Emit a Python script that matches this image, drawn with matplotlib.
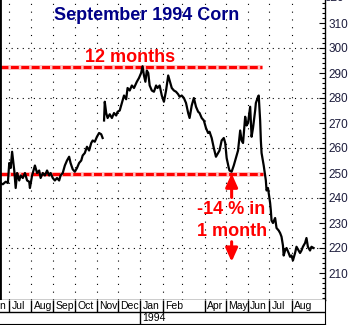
import numpy as np
import matplotlib
matplotlib.use("Agg")
import matplotlib.pyplot as plt
import matplotlib.dates as mdates
from matplotlib.ticker import MultipleLocator
from datetime import date, timedelta

# Contrat maïs septembre 1994 - prix (cents/bu)
start = date(1993, 7, 1)

# jours depuis le 1er juillet 1993
day_offsets = [
    -13, -9, -5, -2, 0, 2, 4, 7, 9, 11,
    14, 16, 19, 22, 25, 28, 29, 32, 35, 36,
    39, 42, 44, 47, 50, 53, 56, 58, 61, 64,
    67, 70, 72, 75, 78, 81, 84, 86, 89, 92,
    95, 98, 101, 103, 106, 109, 112, 115, 117, 120,
    123, 126, 129, 131, 132, 133, 134, 136, 138, 141,
    144, 147, 150, 152, 155, 158, 161, 164, 166, 169,
    172, 175, 179, 182, 185, 187, 189, 191, 193, 195,
    197, 200, 203, 206, 208, 211, 214, 217, 220, 223,
    225, 228, 231, 234, 237, 239, 242, 245, 248, 251,
    253, 256, 259, 262, 265, 267, 270, 273, 276, 279,
    281, 284, 287, 290, 293, 295, 298, 301, 303, 305,
    308, 309, 312, 315, 318, 321, 324, 326, 328, 331,
    333, 335, 338, 339, 340, 342, 345, 346, 349, 350,
    352, 353, 354, 357, 359, 360, 361, 363, 366, 367,
    368, 370, 373, 375, 378, 380, 382, 384, 385, 387,
    389, 392, 394, 396, 398, 401, 403, 406, 408, 410,
    412, 415, 416, 417, 419, 422, 424, 427,
]
prices = [
    246, 245.5, 246.5, 246, 254, 252, 258.5, 251, 244, 250,
    247, 249, 248, 250, 247, 246.5, 244, 249, 252, 253,
    250, 251, 248, 250, 249, 251, 249, 250, 248, 247,
    248, 247, 249, 250, 253, 255, 256.5, 254, 251.5, 250.5,
    252, 254, 255, 257, 258, 260.5, 259, 262, 263, 262.5,
    264.5, 266, 265.5, 264, np.nan, 271, 278.5, 274, 272, 273.5,
    272, 274, 273, 274.5, 275, 278, 281, 279.5, 284, 283,
    285, 284, 286.5, 288, 290, 292.7, 289, 286.5, 291, 290,
    285, 283, 282.5, 285, 284, 285, 281, 278.5, 283, 289,
    287, 284, 283, 282.5, 281.5, 280.5, 281, 280, 278, 274,
    272, 277, 280, 276.5, 274.5, 274, 272, 271, 268, 266,
    266.5, 264, 260, 256.5, 258, 259, 263, 264, 262, 256,
    252, 251, 250.5, 253, 256, 259, 267, 263, 262, 272.5,
    269, 270, 276.5, 270, 264.5, 268, 275, 278, 280.5, 281,
    271, 263, 258, 253, 249, 247, 243, 244, 238, 235,
    231, 230, 232, 228, 227, 226, 224.5, 221, 217, 219,
    220, 218, 216.5, 217, 215, 218, 220.5, 219, 218, 219,
    220.5, 222, 223, 224, 220.5, 219, 220.5, 220,
]

# étiquettes des mois sous le graphique (pas de "Mar" sur l'original)
month_labels = ["Jun", "Jul", "Aug", "Sep", "Oct", "Nov", "Dec",
                "Jan", "Feb", "Apr", "May", "Jun", "Jul", "Aug"]
month_starts = ["1993-06-01", "1993-07-01", "1993-08-01", "1993-09-01",
                "1993-10-01", "1993-11-01", "1993-12-01", "1994-01-01",
                "1994-02-01", "1994-04-01", "1994-05-01", "1994-06-01",
                "1994-07-01", "1994-08-01"]
grid_months = ["1993-07-01", "1993-08-01", "1993-09-01", "1993-10-01",
               "1993-11-01", "1993-12-01", "1994-01-01", "1994-02-01",
               "1994-03-01", "1994-04-01", "1994-05-01", "1994-06-01",
               "1994-07-01", "1994-08-01"]
price_grid = [220, 240, 260, 280, 300]

high_level = 292.5    # sommet (ligne "12 months")
low_level = 249.5     # niveau de départ / creux de mai


def dnum(d):
    return mdates.date2num(start + timedelta(days=d))


def snum(s):
    return mdates.datestr2num(s)


x = [dnum(d) for d in day_offsets]
x0, x1 = dnum(-13), dnum(443)

RED = "#ff0000"
NAVY = "#000088"
FONT = "Liberation Sans"

fig = plt.figure(figsize=(3.6, 3.25), dpi=100)
ax = fig.add_axes([0, 25 / 325, 325 / 360, 300 / 325])
ax.set_xlim(x0, x1)
ax.set_ylim(199.2, 319.2)

# cadre
ax.spines["top"].set_visible(False)
ax.spines["left"].set_linewidth(2)
ax.spines["right"].set_linewidth(1)
ax.spines["bottom"].set_linewidth(1)

# axe des prix à droite
ax.yaxis.tick_right()
ax.set_yticks(range(210, 320, 10))
ax.yaxis.set_minor_locator(MultipleLocator(2))
ax.tick_params(axis="y", which="major", direction="in", length=4, width=0.8,
               pad=2.5, labelsize=8.5, labelcolor="#1c1c3c")
ax.tick_params(axis="y", which="minor", direction="in", length=2, width=0.8)
for lab in ax.get_yticklabels():
    lab.set_family(FONT)
# 320 coupé en haut comme sur l'original
ax.text(1.0, 320, "320", transform=ax.get_yaxis_transform(), ha="left", va="center",
        fontsize=8.5, color="#1c1c3c", family=FONT, clip_on=False)
ax.set_xticks([])

# grille pointillée
for h in price_grid:
    ax.axhline(h, color="k", lw=0.8, ls=(0, (1, 4)), zorder=1)
for m in grid_months:
    ax.axvline(snum(m), color="k", lw=0.8, ls=(0, (1, 6)), zorder=1)

# lignes rouges horizontales
for lvl, end in [(high_level, 354), (low_level, 356)]:
    ax.plot([x0, dnum(end)], [lvl, lvl], color="#ffc4c4", lw=3.6,
            solid_capstyle="butt", zorder=2)
    ax.plot([x0, dnum(end)], [lvl, lvl], color=RED, lw=2.2,
            ls=(0, (2.6, 0.8)), zorder=2)

# prix
ax.plot(x, prices, color="k", lw=1.6, zorder=3)

# textes
ax.text(dnum(193), 313.2, "September 1994 Corn", ha="center", va="center",
        fontsize=13, fontweight="bold", color=NAVY, family=FONT)
ax.text(dnum(169), 296.2, "12 months", ha="center", va="center",
        fontsize=13, fontweight="bold", color=RED, family=FONT)
ax.text(dnum(311), 235.2, "-14 % in", ha="center", va="center",
        fontsize=13, fontweight="bold", color=RED, family=FONT)
ax.text(dnum(313), 226.8, "1 month", ha="center", va="center",
        fontsize=13, fontweight="bold", color=RED, family=FONT)

arrow = dict(arrowstyle="-|>,head_length=0.8,head_width=0.36", color=RED,
             lw=2.2, shrinkA=0, shrinkB=0, mutation_scale=10)
ax.annotate("", xy=(dnum(312), 249.8), xytext=(dnum(312), 240.2), arrowprops=arrow)
ax.annotate("", xy=(dnum(312), 214.5), xytext=(dnum(312), 222.5), arrowprops=arrow)

# bande des mois / année
axb = fig.add_axes([0, 1 / 325, 325 / 360, 24 / 325])
axb.set_xlim(x0, x1)
axb.set_ylim(0, 2)
axb.set_xticks([])
axb.set_yticks([])
axb.spines["top"].set_visible(False)
axb.spines["left"].set_visible(False)
axb.axhline(1, color="k", lw=1)
for lab, m in zip(month_labels, month_starts):
    mx = snum(m)
    axb.vlines(mx, 1, 2, color="k", lw=1)
    axb.annotate(lab, xy=(mx, 1.5), xytext=(1.6, 0), textcoords="offset points",
                 ha="left", va="center", fontsize=7.5, family=FONT,
                 annotation_clip=False)
jan = snum("1994-01-01")
axb.vlines(jan, 0, 1, color="k", lw=1)
axb.annotate("1994", xy=(jan, 0.5), xytext=(1.2, 0), textcoords="offset points",
             ha="left", va="center", fontsize=7.5, family=FONT)

fig.savefig("out.png", dpi=100)
